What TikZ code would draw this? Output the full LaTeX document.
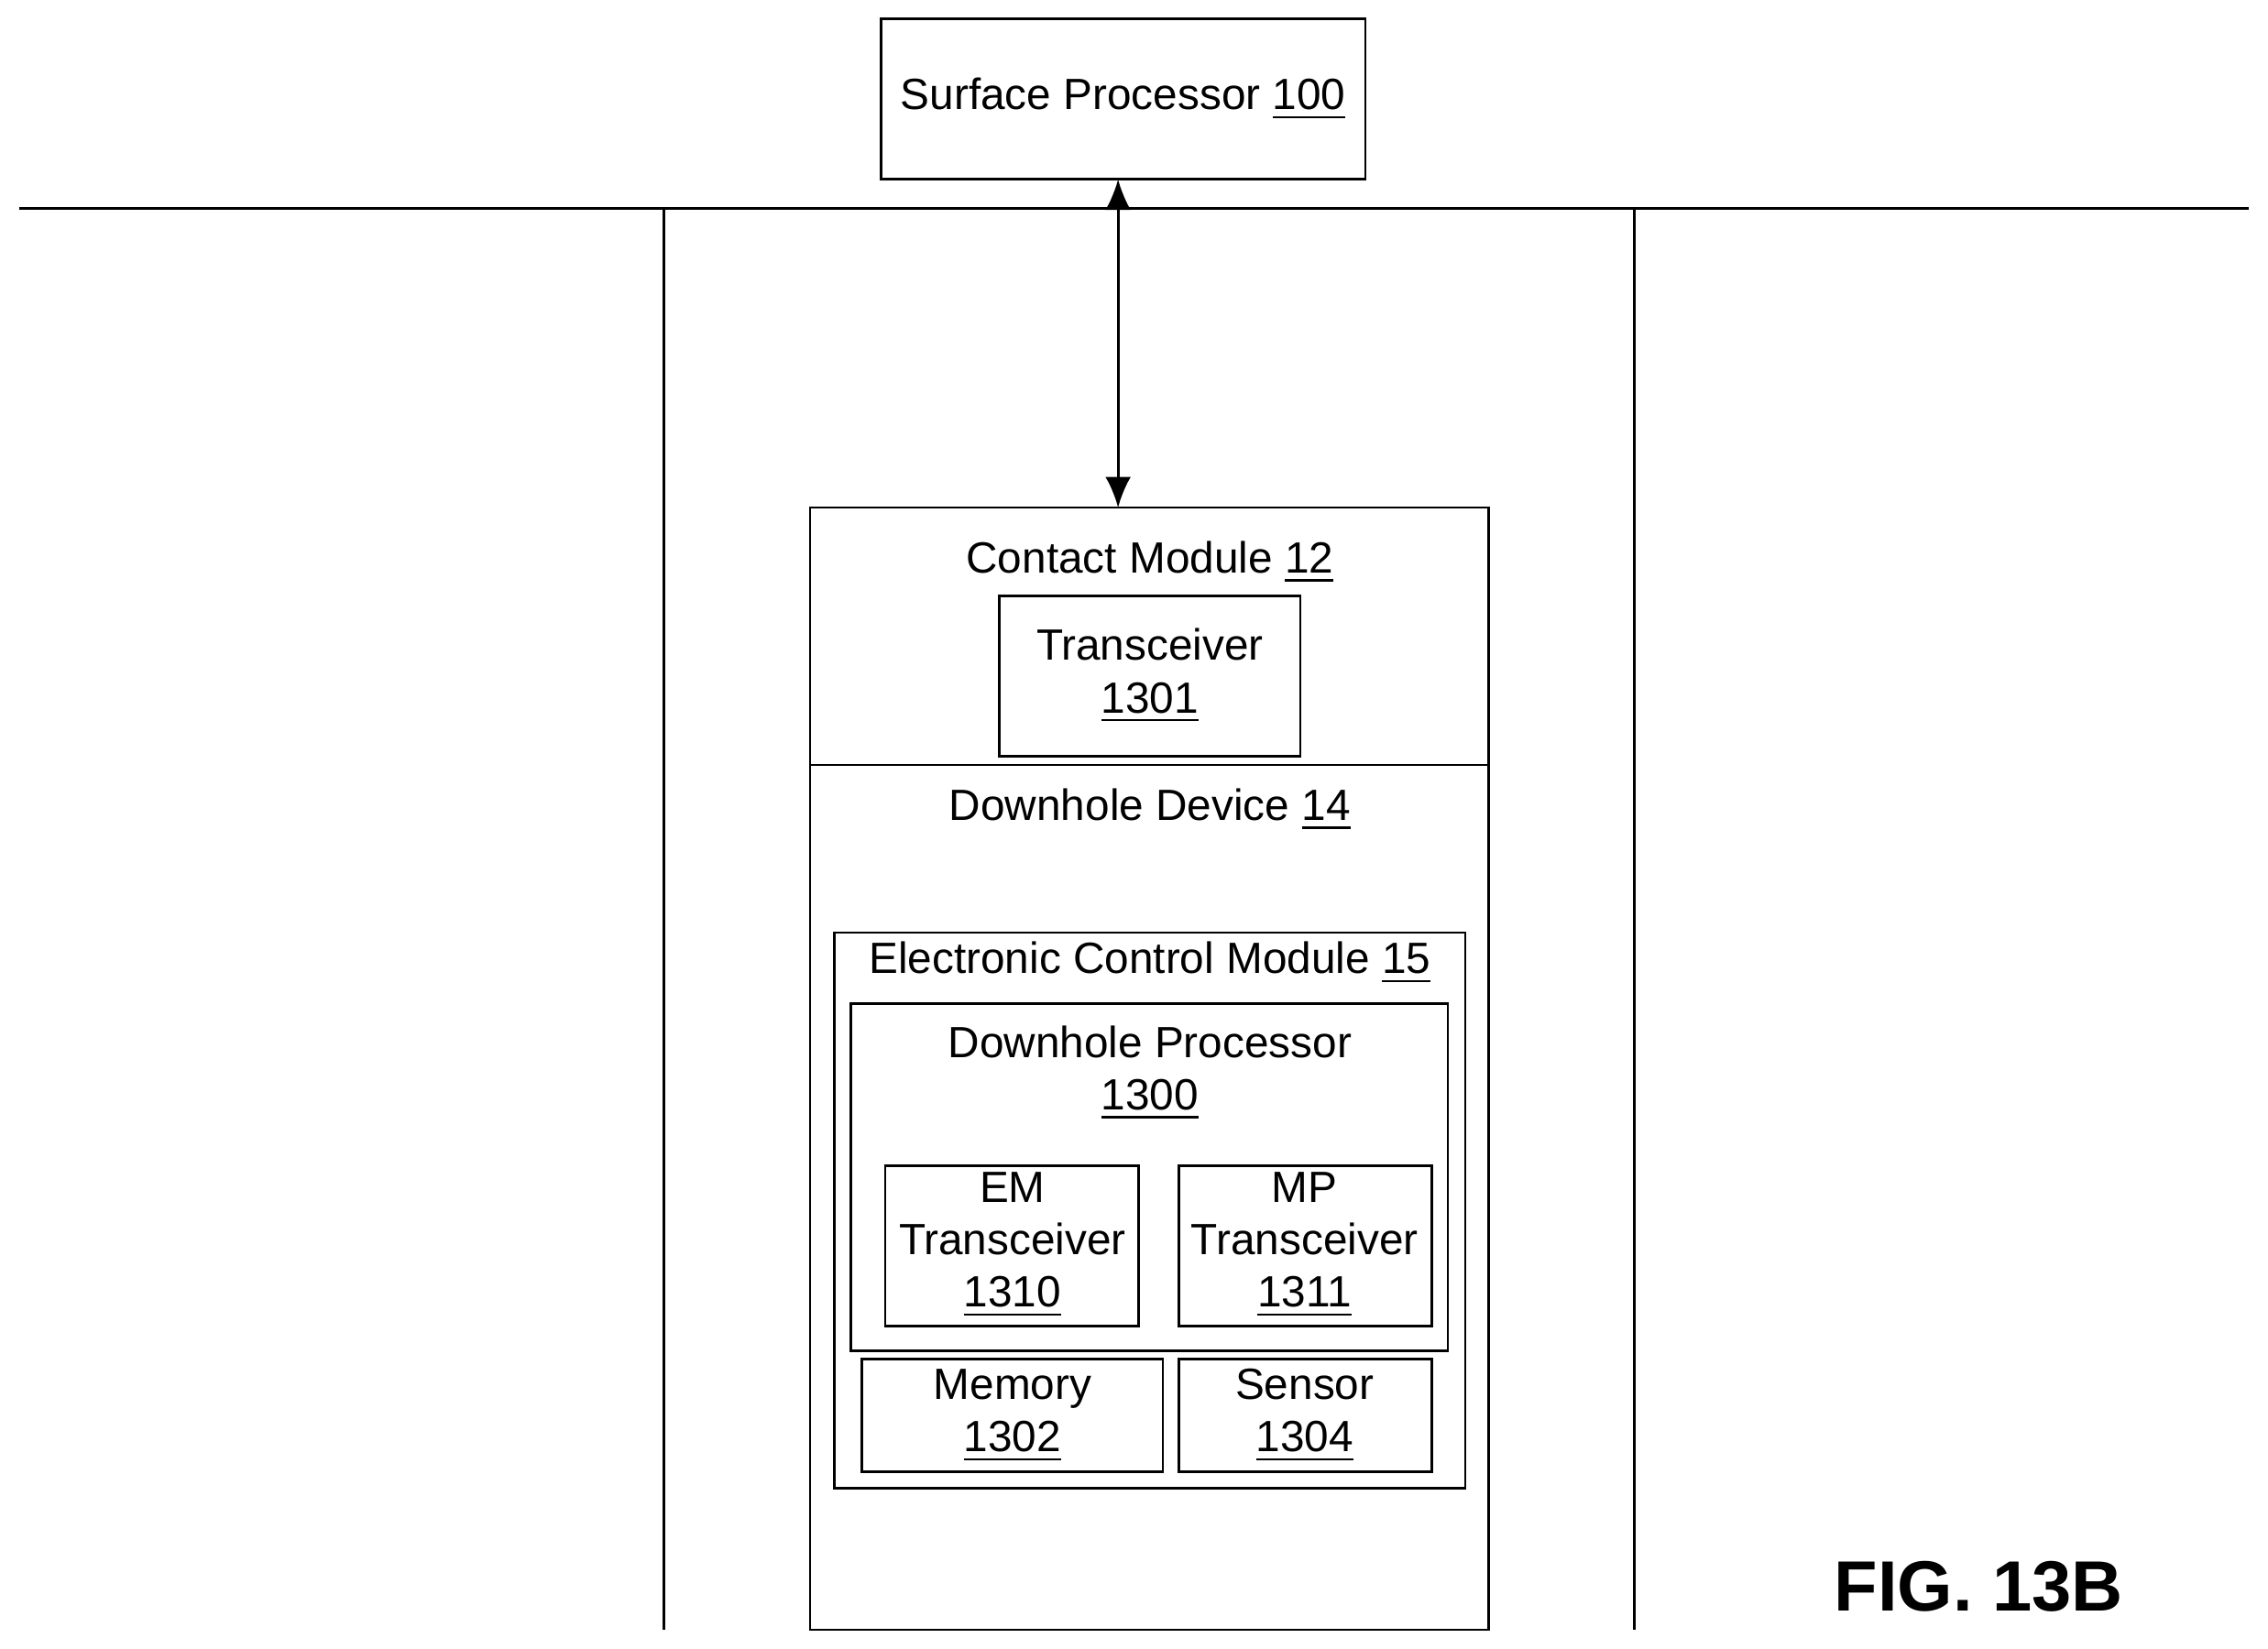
\documentclass[tikz,border=0pt]{standalone}
\usepackage{fontspec}
\setmainfont{Liberation Sans}
\usetikzlibrary{arrows.meta}
\newcommand{\bx}[5]{\node[bx,minimum width={(#4-#2)*0.01cm},minimum height={(#5-#3)*0.01cm}] (#1) at ({(#2+#4)/2},{(#3+#5)/2}) {};}
\begin{document}
\begin{tikzpicture}[x=0.01cm,y=-0.01cm,
  bx/.style={draw,line width=0.5pt,inner sep=0pt,outer sep=0pt},
  tx/.style={font=\fontsize{8.6}{10.3}\selectfont,align=center,inner sep=0pt},
  ln/.style={line width=0.5pt}]
\useasboundingbox (0,0) rectangle (1568,1140);
\bx{sp}{609}{13}{944}{124}
\node[tx] at (sp) {Surface Processor \underline{100}};
\coordinate (g1) at (13,144); \coordinate (g2) at (1555,144);
\draw[ln] (g1) -- (g2);
\coordinate (w1) at (459,144); \coordinate (w1b) at (459,1127);
\coordinate (w2) at (1130,144); \coordinate (w2b) at (1130,1127);
\draw[ln] (w1) -- (w1b); \draw[ln] (w2) -- (w2b);
\bx{ob}{560}{351}{1029}{1127}
\coordinate (d1) at (560,529); \coordinate (d2) at (1029,529);
\draw[ln] (d1) -- (d2);
\coordinate (a1) at (773,124); \coordinate (a2) at (773,351);
\draw[ln,{Latex[length=6pt,width=5pt]}-{Latex[length=6pt,width=5pt]}] (a1) -- (a2);
\node[tx] at (795,389) {Contact Module \underline{12}};
\bx{tr}{691}{412}{899}{523}
\node[tx] at (tr) {Transceiver\\\underline{1301}};
\node[tx] at (795,560) {Downhole Device \underline{14}};
\bx{ecm}{577}{645}{1013}{1029}
\node[tx] at (795,666) {Electronic Control Module \underline{15}};
\bx{dp}{588}{694}{1001}{934}
\node[tx] at (795,742) {Downhole Processor\\\underline{1300}};
\bx{em}{612}{806}{787}{917}
\node[tx] at (700,861) {EM\\Transceiver\\\underline{1310}};
\bx{mp}{815}{806}{990}{917}
\node[tx] at (902,861) {MP\\Transceiver\\\underline{1311}};
\bx{mem}{596}{940}{804}{1018}
\node[tx] at (700,979) {Memory\\\underline{1302}};
\bx{sen}{815}{940}{990}{1018}
\node[tx] at (902,979) {Sensor\\\underline{1304}};
\node[font=\fontsize{14}{17}\selectfont\bfseries,inner sep=0pt] at (1368,1097) {FIG. 13B};
\end{tikzpicture}
\end{document}
